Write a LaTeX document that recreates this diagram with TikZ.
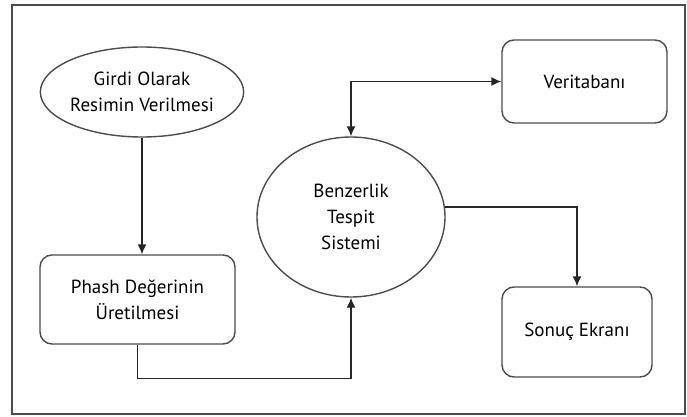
\documentclass[tikz,border=0pt]{standalone}
\usepackage{fontspec}
\setmainfont{PT Sans}
\usetikzlibrary{shapes.geometric,arrows.meta}
\begin{document}
\begin{tikzpicture}[x=1pt,y=-1pt,
		kutu/.style={draw=black!70,line width=1.4pt,rounded corners=12pt,align=center,inner sep=0pt},
		oval/.style={draw=black!70,line width=1.4pt,ellipse,align=center,inner sep=0pt},
		ok/.style={-{Latex[length=10pt,width=9pt]},line width=1.4pt,black!85},
		font=\fontsize{19}{26}\selectfont]
		%
		\useasboundingbox (0,0) rectangle (687,417);
		\draw[black!70,line width=1.2pt] (12,5) rectangle (685,414);
		%
		\node[oval,minimum width=184pt,minimum height=90pt] (gg) at (142,92) {Girdi Olarak\\Resimin Verilmesi};
		\node[kutu,minimum width=195pt,minimum height=89pt] (pp) at (137.5,299.5) {Phash Değerinin\\Üretilmesi};
		\node[oval,minimum width=188pt,minimum height=160pt] (bb) at (351,217) {Benzerlik\\Tespit\\Sistemi};
		\node[kutu,minimum width=165pt,minimum height=83pt] (vv) at (584.5,81.5) {Veritabanı};
		\node[kutu,minimum width=150pt,minimum height=90pt] (ss) at (577,332) {Sonuç Ekranı};
		%
		\draw[ok] (gg.south) -- (gg.south |- pp.north);
		\draw[ok] (pp.south) -- ++(0,34) -| (bb.south);
		\draw[ok,{Latex[length=10pt,width=9pt]}-{Latex[length=10pt,width=9pt]}] (bb.north) |- (vv.west);
		\draw[ok] (bb.6) -| (ss.north);
		%
\end{tikzpicture}
\end{document}
